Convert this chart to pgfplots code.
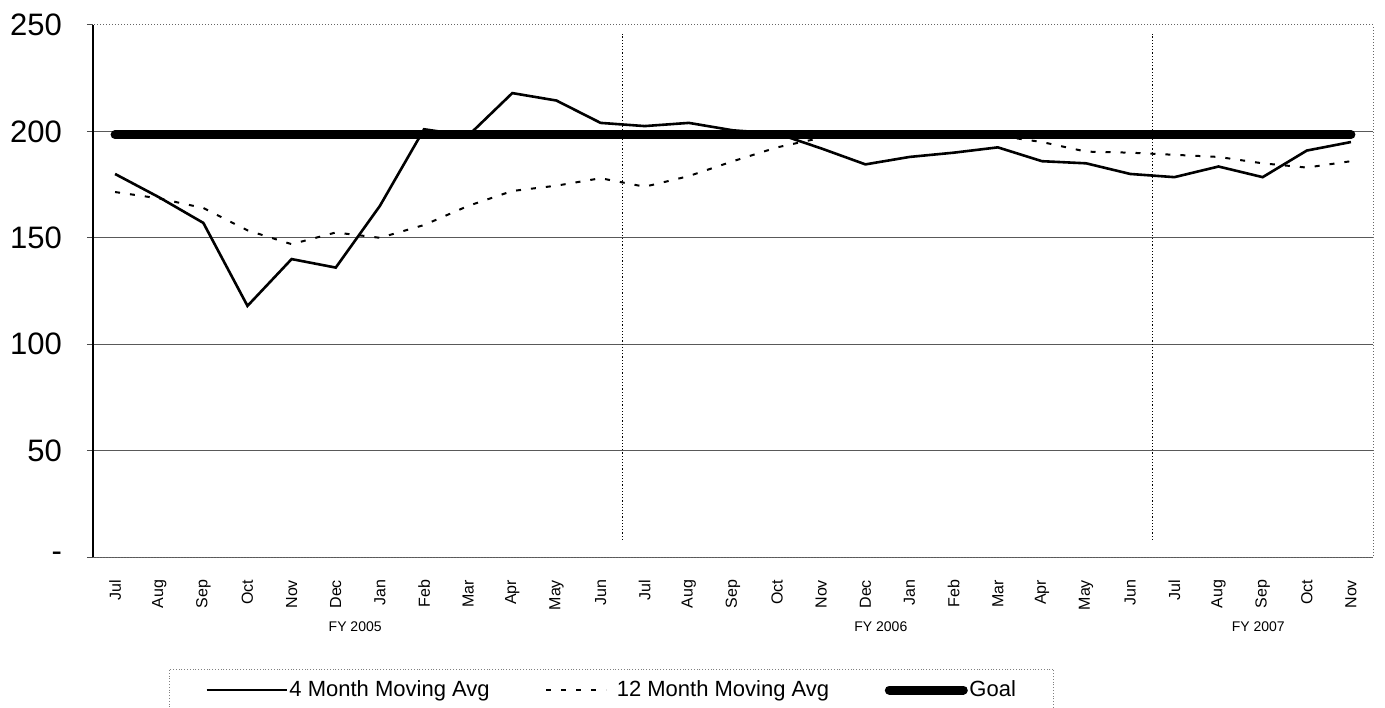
\documentclass[border=0pt]{standalone}
\usepackage{pgfplots}
\pgfplotsset{compat=1.18}
\usepackage{pgfplotstable}
\usepackage{fontspec}
\setmainfont{Liberation Sans}

% monthly values, Jul FY2005 .. Nov FY2007
\pgfplotstableread{
x  four  twelve goal
0  180   171.5  198.5
1  169   168.5  198.5
2  157   164    198.5
3  118   153.5  198.5
4  140   147    198.5
5  136   152.5  198.5
6  165   150    198.5
7  201   156    198.5
8  198   165    198.5
9  218   172    198.5
10 214.5 174.5  198.5
11 204   178    198.5
12 202.5 174    198.5
13 204   179    198.5
14 200.5 186    198.5
15 199   192.5  198.5
16 192   197    198.5
17 184.5 199    198.5
18 188   200    198.5
19 190   200    198.5
20 192.5 198    198.5
21 186   195    198.5
22 185   190.5  198.5
23 180   190    198.5
24 178.5 189    198.5
25 183.5 188    198.5
26 178.5 185    198.5
27 191   183    198.5
28 195   186    198.5
}\datatable

\begin{document}
\begin{tikzpicture}
\begin{axis}[
    name=main,
    scale only axis,
    width=640pt, height=266pt,
    xmin=-0.5, xmax=28.5,
    ymin=0, ymax=250,
    xtick={0,...,28},
    xticklabels={Jul,Aug,Sep,Oct,Nov,Dec,Jan,Feb,Mar,Apr,May,Jun,Jul,Aug,Sep,Oct,Nov,Dec,Jan,Feb,Mar,Apr,May,Jun,Jul,Aug,Sep,Oct,Nov},
    xticklabel style={rotate=90, anchor=east, font=\fontsize{8}{9}\selectfont},
    xticklabel shift=5pt,
    xtick style={draw=none},
    ytick={0,50,...,200},
    yticklabels={{-\hspace{7pt}},50,100,150,200},
    extra y ticks={250},
    extra y tick style={grid=none},
    yticklabel style={font=\fontsize{15.5}{17}\selectfont},
    yticklabel shift=9pt,
    ytick pos=left,
    tick align=outside,
    major tick length=3pt,
    ytick style={black!70, line width=0.5pt},
    /pgf/number format/assume math mode=true,
    ymajorgrids=true,
    grid style={black!65, line width=0.5pt},
    axis line style={draw=none},
    clip=false,
    legend columns=3,
    legend style={
        at={(0.405,-0.25)}, anchor=center,
        draw=black!50, densely dotted,
        font=\fontsize{11}{13}\selectfont,
        inner xsep=18pt, inner ysep=5pt,
        nodes={inner sep=0.8pt},
        /tikz/every odd column/.append style={column sep=0pt},
        /tikz/every even column/.append style={column sep=27pt}
    }
]
    % frame of the plot area
    \draw[black!60, densely dotted, line width=0.5pt] (rel axis cs:0,0) -- (rel axis cs:1,0) -- (rel axis cs:1,1) -- (rel axis cs:0,1);
    \draw[black, line width=0.8pt] (rel axis cs:0,0) -- (rel axis cs:0,1);

    % fiscal year separators
    \addplot[black, densely dotted, line width=0.6pt, forget plot] coordinates {(11.5,8) (11.5,246)};
    \addplot[black, densely dotted, line width=0.6pt, forget plot] coordinates {(23.5,8) (23.5,246)};

    \addplot[black, solid, line width=1.3pt,
        legend image code/.code={\draw[black, solid, line width=1.3pt] (0pt,0pt) -- (40pt,0pt);}]
        table[x=x, y=four] {\datatable};
    \addlegendentry{4 Month Moving Avg}

    \addplot[black, line width=1pt, dash pattern=on 2.5pt off 5pt,
        legend image code/.code={\draw[black, line width=1pt, dash pattern=on 2.5pt off 5pt] (0pt,0pt) -- (30pt,0pt); \path (34pt,0pt);}]
        table[x=x, y=twelve] {\datatable};
    \addlegendentry{12 Month Moving Avg}

    \addplot[black, solid, line width=4.5pt, line cap=round,
        legend image code/.code={\draw[black, solid, line width=4.5pt, line cap=round] (2.5pt,0pt) -- (39.5pt,0pt);}]
        table[x=x, y=goal] {\datatable};
    \addlegendentry{Goal}

    \node[font=\fontsize{7}{8}\selectfont, yshift=-35pt] at (axis cs:5.44,0) {FY 2005};
    \node[font=\fontsize{7}{8}\selectfont, yshift=-35pt] at (axis cs:17.35,0) {FY 2006};
    \node[font=\fontsize{7}{8}\selectfont, yshift=-35pt] at (axis cs:25.9,0) {FY 2007};
\end{axis}
\pgfresetboundingbox
\path ([xshift=-46.5pt,yshift=-75pt]main.south west) rectangle ([xshift=6pt,yshift=12.5pt]main.north east);
\end{tikzpicture}
\end{document}
